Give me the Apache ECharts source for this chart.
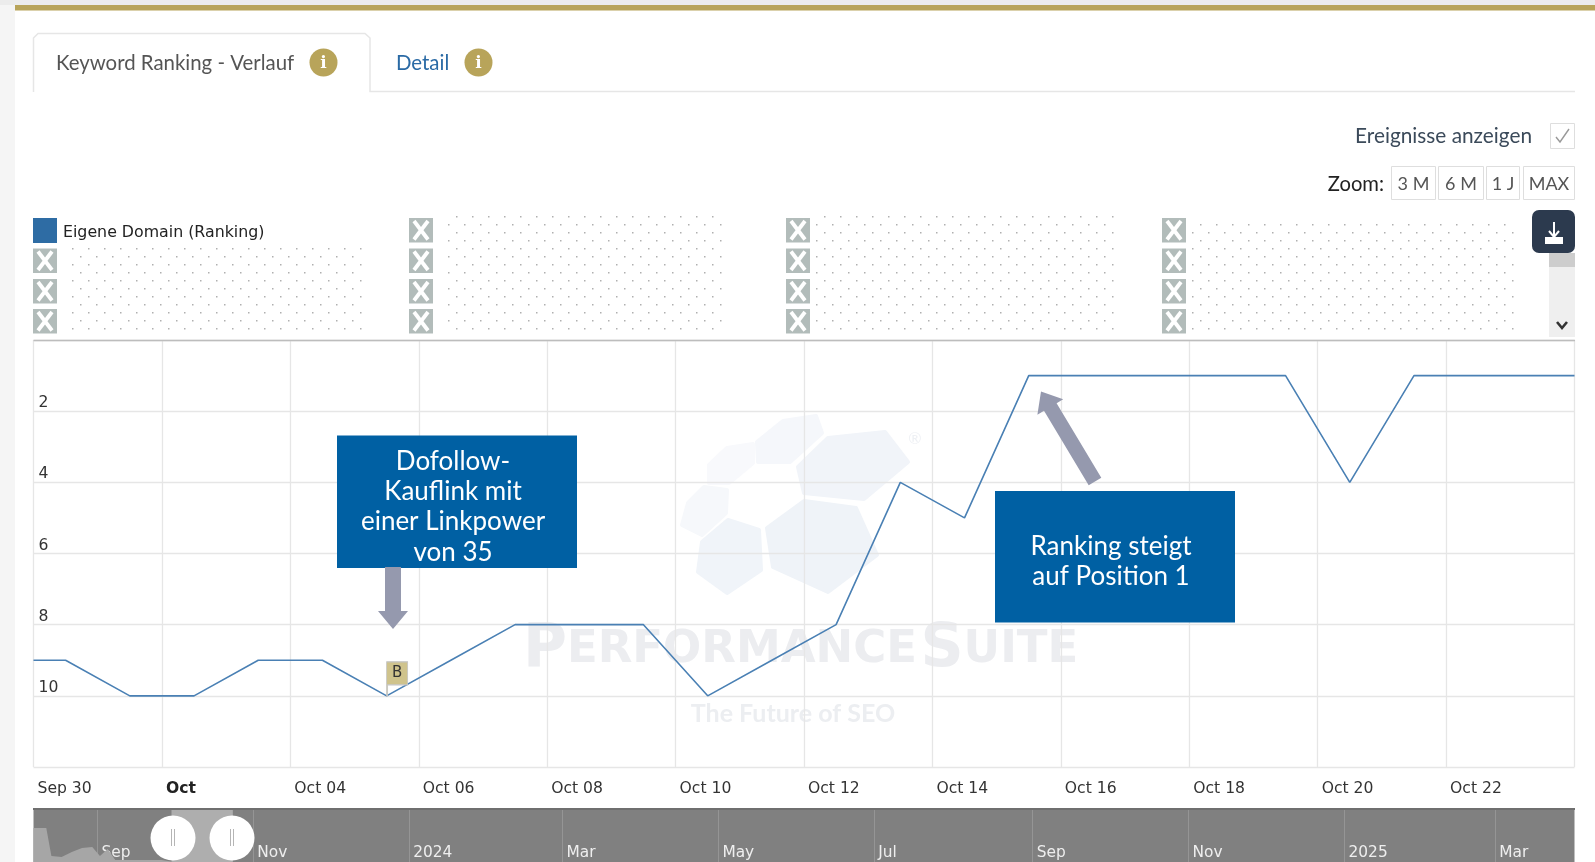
<!DOCTYPE html>
<html>
<head>
<meta charset="utf-8">
<title>Keyword Ranking</title>
<style>
  html, body { margin: 0; padding: 0; background: #fff; }
  #chart { width: 1595px; height: 862px; }
</style>
</head>
<body>
<div id="chart"></div>
<script src="https://cdn.jsdelivr.net/npm/echarts@6/dist/echarts.min.js"></script>
<script>
// x is counted in days from the left edge of the plot, a point sits in the middle of its day
const rankX = [0, 0.5, 1.5, 2.5, 3.5, 4.5, 5.5, 6.5, 7.5, 8.5, 9.5, 10.5, 11.5, 12.5, 13.5, 14.5, 15.5, 16.5, 17.5, 18.5, 19.5, 20.5, 21.5, 22.5, 23.5, 24]
const rankValues = [9, 9, 10, 10, 9, 9, 10, 9, 8, 8, 8, 10, 9, 8, 4, 5, 1, 1, 1, 1, 1, 4, 1, 1, 1, 1]
const xTickLabels = ['Sep 30', 'Oct', 'Oct 04', 'Oct 06', 'Oct 08', 'Oct 10', 'Oct 12', 'Oct 14', 'Oct 16', 'Oct 18', 'Oct 20', 'Oct 22', '']
const yTickLabels = ['', '2', '4', '6', '8', '10', '']
const eventPoint = [5.5, 10]

// navigator below the chart
const navDates = ['2023-08-07', '2023-08-12', '2023-08-14', '2023-08-18', '2023-08-22', '2023-08-26', '2023-08-30', '2023-09-02', '2023-09-05', '2023-09-08', '2023-09-20', '2023-09-26', '2023-10-01']
const navValues = [34, 34, 6, 5, 10, 14, 15, 6, 13, 2, 2, 2, 0]
const navTickDates = ['2023-09-01', '2023-11-01', '2024-01-01', '2024-03-01', '2024-05-01', '2024-07-01', '2024-09-01', '2024-11-01', '2025-01-01', '2025-03-01']
const navTickLabels = ['Sep', 'Nov', '2024', 'Mar', 'May', 'Jul', 'Sep', 'Nov', '2025', 'Mar']
const navSelection = ['2023-09-30', '2023-10-24']
const navRange = ['2023-08-07', '2025-04-01']

const UI_FONT = 'Lato'
const CHART_FONT = 'DejaVu Sans'
const GOLD = '#b8a45a'

const myChart = echarts.init(document.getElementById('chart'), null, { renderer: 'canvas' })

const ms = d => +new Date(d)

// dotted filler of the blanked legend columns
function dotPattern () {
  const c = document.createElement('canvas')
  c.width = 16
  c.height = 16
  const ctx = c.getContext('2d')
  ctx.fillStyle = '#b0b0b0'
  ctx.fillRect(0, 0, 1.5, 1.5)
  ctx.fillRect(8, 8, 1.5, 1.5)
  return c
}

function rect (x, y, w, h, fill, stroke, r) {
  return {
    type: 'rect',
    silent: true,
    shape: { x, y, width: w, height: h, r: r || 0 },
    style: { fill: fill, stroke: stroke || null, lineWidth: 1 }
  }
}

function label (x, y, text, size, color, align, font, weight) {
  return {
    type: 'text',
    silent: true,
    x,
    y,
    style: {
      text,
      fill: color,
      fontSize: size,
      fontFamily: font || UI_FONT,
      fontWeight: weight || 'normal',
      textAlign: align || 'left',
      textVerticalAlign: 'middle'
    }
  }
}

function poly (points, fill, z) {
  return {
    type: 'polygon',
    silent: true,
    z: z || 0,
    shape: { points },
    style: { fill, stroke: fill, lineWidth: 4, lineJoin: 'round' }
  }
}

function line (points, color, width) {
  return {
    type: 'polyline',
    silent: true,
    shape: { points },
    style: { fill: null, stroke: color, lineWidth: width }
  }
}

function infoIcon (cx, cy) {
  return [
    { type: 'circle', silent: true, shape: { cx, cy, r: 14 }, style: { fill: GOLD } },
    label(cx, cy + 1, 'i', 17, '#fff', 'center', 'DejaVu Serif', 'bold')
  ]
}

function closeIcon (x, y) {
  return [
    rect(x, y, 24, 24.5, '#b2bcba'),
    line([[x + 5, y + 3], [x + 19, y + 21.5]], '#fff', 3.8),
    line([[x + 19, y + 3], [x + 5, y + 21.5]], '#fff', 3.8)
  ]
}

function button (x, w, text) {
  return [
    rect(x + 0.5, 166.5, w, 33, '#fff', '#dedede'),
    label(x + w / 2 + 0.5, 184, text, 18, '#555', 'center')
  ]
}

function navHandle (cx) {
  return [
    { type: 'circle', silent: true, z: 12, shape: { cx, cy: 838, r: 22.5 }, style: { fill: '#fff' } },
    Object.assign(line([[cx - 1.5, 829], [cx - 1.5, 846]], '#b5b5b5', 1), { z: 13 }),
    Object.assign(line([[cx + 1.5, 829], [cx + 1.5, 846]], '#b5b5b5', 1), { z: 13 })
  ]
}

const legendColumns = [33, 409, 786, 1162]
const legendRows = [218, 248.5, 279, 309]
const closeIcons = []
legendColumns.forEach((x, col) => {
  legendRows.forEach((y, row) => {
    if (col === 0 && row === 0) return
    closeIcons.push(...closeIcon(x, y))
  })
})

const dots = dotPattern()
const dotFill = { image: dots, repeat: 'repeat' }

const watermark = [
  poly([[767, 528], [804, 501], [856, 508], [877, 555], [828, 592], [773, 567]], '#eff3f8', -1),
  poly([[728, 520], [759, 530], [761, 570], [727, 593], [698, 572], [702, 542]], '#f0f4f9', -1),
  poly([[828, 438], [885, 432], [908, 462], [864, 499], [804, 493], [798, 467]], '#f1f4f9', -1),
  poly([[783, 421], [816, 416], [822, 433], [790, 462], [758, 462], [757, 442]], '#f5f7fb', -1),
  poly([[727, 448], [753, 444], [753, 463], [729, 483], [709, 483], [709, 465]], '#f8f9fc', -1),
  poly([[704, 487], [727, 490], [726, 513], [702, 535], [682, 525], [688, 503]], '#f6f8fb', -1),
  Object.assign(label(915, 439, '®', 16, '#eef0f4', 'center'), { z: -1 }),
  {
    type: 'text',
    silent: true,
    z: -1,
    x: 523,
    y: 650,
    style: {
      rich: {
        a: { fontSize: 60, fontWeight: 'bold', fill: '#ecedf0', fontFamily: CHART_FONT },
        b: { fontSize: 45, fontWeight: 'bold', fill: '#ecedf0', fontFamily: CHART_FONT }
      },
      text: '{a|P}{b|ERFORMANCE} {a|S}{b|UITE}',
      textVerticalAlign: 'middle'
    }
  },
  Object.assign(label(793, 714, 'The Future of SEO', 25, '#eceef1', 'center', UI_FONT, 'bold'), { z: -1 })
]

const chrome = [
  rect(0, 0, 15, 862, '#f5f5f5'),
  rect(0, 0, 1595, 5, '#ececec'),
  rect(15, 5, 1580, 5.5, GOLD),

  // tabs
  line([[33.5, 92], [33.5, 38], [38, 33.5], [365, 33.5], [370, 38], [370, 91.5], [1575, 91.5]], '#e6e6e6', 1.5),
  label(56, 63, 'Keyword Ranking - Verlauf', 20.4, '#555', 'left'),
  ...infoIcon(323.5, 62.5),
  label(396, 63, 'Detail', 20.4, '#2a6aa5', 'left'),
  ...infoIcon(478.5, 62.5),

  // controls top right
  label(1532, 136.5, 'Ereignisse anzeigen', 20.8, '#3b4a5a', 'right'),
  rect(1550.5, 123.5, 24, 25, '#fff', '#dedede'),
  line([[1556, 137], [1560, 142], [1569, 129]], '#999', 1.4),
  label(1384, 184, 'Zoom:', 20.2, '#222', 'right'),
  ...button(1391, 44, '3 M'),
  ...button(1438, 45, '6 M'),
  ...button(1486, 33, '1 J'),
  ...button(1523, 51, 'MAX'),

  // legend
  rect(33, 218, 24, 25, '#2e6ca4'),
  label(63, 233, 'Eigene Domain (Ranking)', 15.8, '#222', 'left', CHART_FONT),
  ...closeIcons,
  rect(66, 245, 301, 85, dotFill),
  rect(442, 214, 285, 118, dotFill),
  rect(814, 214, 300, 118, dotFill),
  rect(1190, 221, 326, 111, dotFill),

  // scroll bar and download button
  rect(1549, 253, 26, 84, '#efefef'),
  rect(1549, 253, 26, 14, '#cdcdcd'),
  line([[1557, 322], [1562, 328], [1567, 322]], '#333', 2.6),
  rect(1532, 210, 43, 43, '#2c3a4e', null, 7),
  line([[1554, 222], [1554, 236]], '#fff', 2),
  line([[1549, 231], [1554, 237], [1559, 231]], '#fff', 2),
  rect(1545, 237, 18, 7, '#fff'),

  // top border of the plot
  line([[33.5, 340.5], [1575, 340.5]], '#bdbdbd', 1.3),
  rect(33, 808, 1542, 2, '#6f6f6f'),

  // callouts
  rect(337, 435.5, 240, 132.5, '#0060a3'),
  label(453, 461.5, 'Dofollow-', 26, '#fff', 'center'),
  label(453, 491.5, 'Kauflink mit', 26, '#fff', 'center'),
  label(453, 521.5, 'einer Linkpower', 26, '#fff', 'center'),
  label(453, 552.5, 'von 35', 26, '#fff', 'center'),
  {
    type: 'polygon',
    silent: true,
    shape: { points: [[385, 567], [401, 567], [401, 611], [408, 611], [393, 629], [378, 611], [385, 611]] },
    style: { fill: '#9599ae' }
  },
  rect(995, 491, 240, 131.5, '#0060a3'),
  label(1111, 546.5, 'Ranking steigt', 26, '#fff', 'center'),
  label(1111, 576.5, 'auf Position 1', 26, '#fff', 'center'),
  {
    type: 'polygon',
    silent: true,
    shape: { points: [[1041, 391.5], [1063.2, 399.3], [1056.6, 403.2], [1101.3, 477.7], [1088.7, 485.3], [1044, 410.8], [1037.4, 414.7]] },
    style: { fill: '#9599ae' }
  },

  ...navHandle(173),
  ...navHandle(232)
].map(e => Object.assign({ z: 10 }, e))

const option = {
  animation: false,
  backgroundColor: '#fff',
  graphic: { elements: [...watermark, ...chrome] },
  grid: [
    { left: 33.5, right: 20.5, top: 340, bottom: 95 },
    { left: 33.5, right: 20.5, top: 808, height: 54, show: true, backgroundColor: '#808080', borderWidth: 0 }
  ],
  xAxis: [
    {
      type: 'value',
      gridIndex: 0,
      min: 0,
      max: 24,
      interval: 2,
      axisLine: { show: true, lineStyle: { color: '#e6e6e6' } },
      axisTick: { show: false },
      splitLine: { show: true, lineStyle: { color: '#e6e6e6', width: 1.3 } },
      axisLabel: {
        align: 'left',
        margin: 14,
        padding: [0, 0, 0, 4],
        color: '#333',
        fontFamily: CHART_FONT,
        fontSize: 15.6,
        showMinLabel: true,
        showMaxLabel: true,
        formatter: v => {
          const text = xTickLabels[v / 2]
          return text === 'Oct' ? '{b|' + text + '}' : text
        },
        rich: { b: { fontWeight: 'bold', fontFamily: CHART_FONT, fontSize: 15.6, color: '#222' } }
      }
    },
    {
      type: 'value',
      gridIndex: 1,
      min: ms(navRange[0]),
      max: ms(navRange[1]),
      axisLine: { show: false },
      axisTick: { show: false, customValues: navTickDates.map(ms) },
      splitLine: { show: true, lineStyle: { color: '#959595', width: 1 } },
      axisLabel: {
        inside: true,
        align: 'left',
        margin: 2,
        padding: [0, 0, 0, 4],
        color: '#eee',
        fontFamily: CHART_FONT,
        fontSize: 15.4,
        customValues: navTickDates.map(ms),
        formatter: v => navTickLabels[navTickDates.findIndex(d => ms(d) === v)]
      }
    }
  ],
  yAxis: [
    {
      type: 'value',
      gridIndex: 0,
      inverse: true,
      min: 0,
      max: 12,
      interval: 2,
      axisLine: { show: false },
      axisTick: { show: false },
      splitLine: { show: true, lineStyle: { color: '#e6e6e6', width: 1.3 } },
      axisLabel: {
        inside: true,
        margin: 5,
        verticalAlign: 'bottom',
        color: '#333',
        fontFamily: CHART_FONT,
        fontSize: 15.6,
        formatter: v => yTickLabels[v / 2]
      }
    },
    {
      type: 'value',
      gridIndex: 1,
      min: 0,
      max: 54,
      show: false
    }
  ],
  series: [
    {
      name: 'Eigene Domain (Ranking)',
      type: 'line',
      xAxisIndex: 0,
      yAxisIndex: 0,
      data: rankX.map((x, i) => [x, rankValues[i]]),
      showSymbol: false,
      z: 3,
      lineStyle: { color: '#4a80b4', width: 1.6 },
      markPoint: {
        silent: true,
        symbol: 'path://M0,0H21V23H1V34H0Z',
        symbolSize: [21, 34],
        symbolOffset: [10.5, -17],
        symbolKeepAspect: false,
        itemStyle: { color: '#cfc38c', borderColor: '#c4c4c4', borderWidth: 1 },
        label: {
          show: true,
          formatter: 'B',
          position: 'inside',
          offset: [0, -5.5],
          color: '#333',
          fontFamily: CHART_FONT,
          fontSize: 15
        },
        data: [{ coord: eventPoint }]
      }
    },
    {
      name: 'Navigator',
      type: 'line',
      xAxisIndex: 1,
      yAxisIndex: 1,
      data: navDates.map((d, i) => [ms(d), navValues[i]]),
      showSymbol: false,
      lineStyle: { width: 0 },
      areaStyle: { color: '#a6a6a6', opacity: 1 },
      markArea: {
        silent: true,
        itemStyle: { color: 'rgba(255,255,255,0.36)' },
        data: [[{ xAxis: ms(navSelection[0]), yAxis: 0 }, { xAxis: ms(navSelection[1]), yAxis: 54 }]]
      }
    }
  ]
}

myChart.setOption(option)
</script>
</body>
</html>
